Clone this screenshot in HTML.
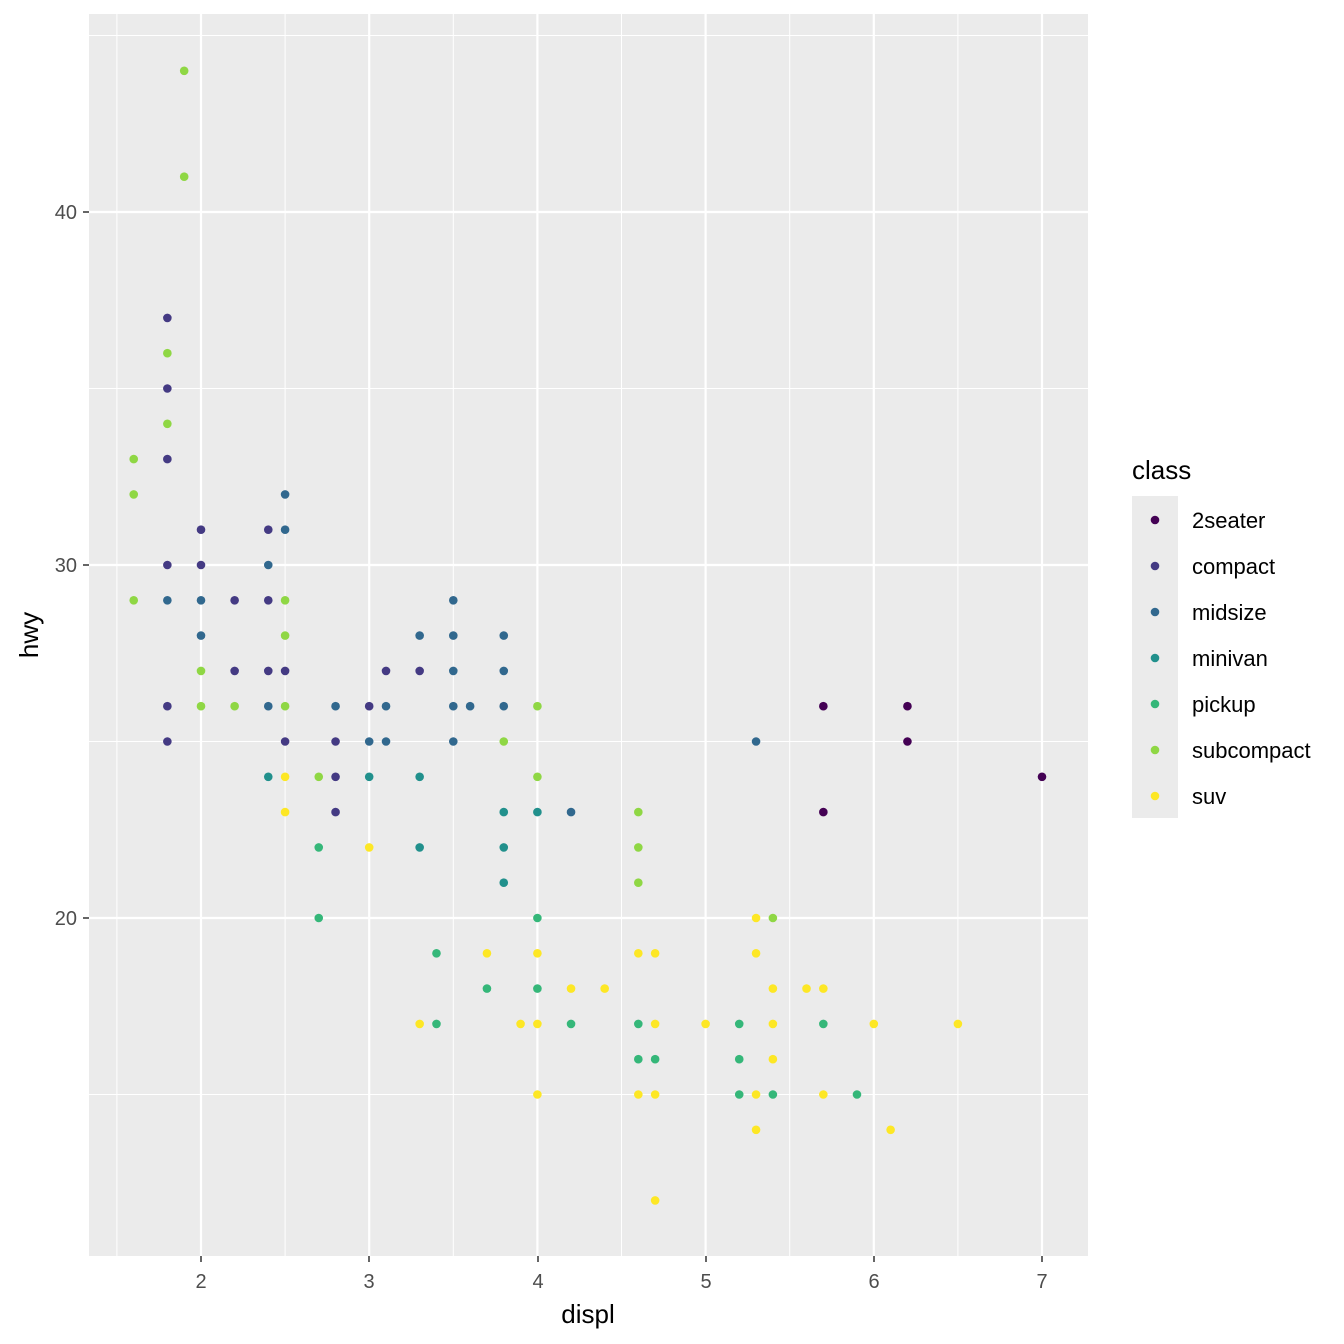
<!DOCTYPE html>
<html><head><meta charset="utf-8"><style>
html,body{margin:0;padding:0;background:#fff;}
svg{display:block;font-family:"Liberation Sans",sans-serif;}
</style></head><body>
<svg id="s" width="1344" height="1344" xmlns="http://www.w3.org/2000/svg">
<rect x="0" y="0" width="1344" height="1344" fill="#fff"/>
<rect x="89" y="14" width="999" height="1242" fill="#EBEBEB"/>
<g id="grid"></g>
<g id="pts"></g>
<g font-size="20" fill="#4D4D4D" text-anchor="end">
<text x="77" y="219">40</text>
<text x="77" y="572">30</text>
<text x="77" y="925">20</text>
</g>
<g font-size="20" fill="#4D4D4D" text-anchor="middle">
<text x="201" y="1288">2</text><text x="369" y="1288">3</text><text x="538" y="1288">4</text>
<text x="706" y="1288">5</text><text x="874" y="1288">6</text><text x="1042" y="1288">7</text>
</g>
<g stroke="#333" stroke-width="1.5">
<line x1="83" x2="89" y1="212" y2="212"/><line x1="83" x2="89" y1="565" y2="565"/><line x1="83" x2="89" y1="918" y2="918"/>
<line x1="201" x2="201" y1="1256" y2="1262"/><line x1="369" x2="369" y1="1256" y2="1262"/><line x1="538" x2="538" y1="1256" y2="1262"/>
<line x1="706" x2="706" y1="1256" y2="1262"/><line x1="874" x2="874" y1="1256" y2="1262"/><line x1="1042" x2="1042" y1="1256" y2="1262"/>
</g>
<text x="588" y="1323" font-size="26" text-anchor="middle" fill="#000">displ</text>
<text transform="translate(38,635) rotate(-90)" font-size="26" text-anchor="middle" fill="#000">hwy</text>
<text x="1132" y="479" font-size="26" fill="#000">class</text>
<rect x="1132" y="496" width="46" height="322" fill="#EBEBEB"/>
<g id="leg" font-size="22" fill="#000"></g>
</svg>
<script>
var NS="http://www.w3.org/2000/svg";
function el(p,t,a){var e=document.createElementNS(NS,t);for(var k in a)e.setAttribute(k,a[k]);p.appendChild(e);return e;}
var X=function(d){return 201+(d-2)*168.2;}, Y=function(h){return 918-(h-20)*35.3;};
var g=document.getElementById("grid");
[1.5,2.5,3.5,4.5,5.5,6.5].forEach(function(d){el(g,"line",{x1:X(d),x2:X(d),y1:14,y2:1256,stroke:"#fff","stroke-width":1});});
[15,25,35,45].forEach(function(h){el(g,"line",{x1:89,x2:1088,y1:Y(h),y2:Y(h),stroke:"#fff","stroke-width":1});});
[2,3,4,5,6,7].forEach(function(d){el(g,"line",{x1:X(d),x2:X(d),y1:14,y2:1256,stroke:"#fff","stroke-width":2.2});});
[20,30,40].forEach(function(h){el(g,"line",{x1:89,x2:1088,y1:Y(h),y2:Y(h),stroke:"#fff","stroke-width":2.2});});
var C={"2seater":"#440154","compact":"#443A83","midsize":"#31688E","minivan":"#21908C","pickup":"#35B779","subcompact":"#8FD744","suv":"#FDE725"};
var D={
subcompact:[[1.9,44],[1.9,41],[1.8,36],[1.8,34],[1.6,33],[1.6,32],[1.6,29],[2.5,29],[2.5,28],[2.0,27],[2.0,26],[2.2,26],[2.5,26],[2.7,24],[3.8,25],[4.0,26],[4.0,24],[4.6,23],[4.6,22],[4.6,21],[5.4,20]],
compact:[[1.8,37],[1.8,35],[1.8,33],[2.0,31],[1.8,30],[2.0,30],[2.2,29],[2.4,31],[2.4,29],[2.2,27],[2.4,27],[2.5,27],[1.8,26],[1.8,25],[2.5,25],[2.8,25],[2.8,24],[2.8,23],[3.0,26],[3.1,27],[3.3,27]],
midsize:[[2.5,32],[2.5,31],[2.4,30],[1.8,29],[2.0,29],[2.0,28],[2.4,26],[2.8,26],[3.0,25],[3.1,26],[3.1,25],[3.3,28],[3.5,29],[3.5,28],[3.5,27],[3.5,26],[3.6,26],[3.5,25],[3.8,28],[3.8,27],[3.8,26],[4.2,23],[5.3,25]],
minivan:[[2.4,24],[3.0,24],[3.3,24],[3.3,22],[3.8,23],[3.8,22],[3.8,21],[4.0,23]],
pickup:[[2.7,22],[2.7,20],[3.4,19],[3.4,17],[3.7,18],[4.0,20],[4.0,18],[4.2,17],[4.6,17],[4.6,16],[4.7,16],[5.2,17],[5.2,16],[5.2,15],[5.4,15],[5.7,17],[5.9,15]],
suv:[[2.5,24],[2.5,23],[3.0,22],[3.3,17],[3.7,19],[3.9,17],[4.0,19],[4.0,17],[4.0,15],[4.2,18],[4.4,18],[4.6,19],[4.6,15],[4.7,19],[4.7,17],[4.7,15],[4.7,12],[5.0,17],[5.3,20],[5.3,19],[5.3,15],[5.3,14],[5.4,18],[5.4,17],[5.4,16],[5.6,18],[5.7,18],[5.7,15],[6.0,17],[6.1,14],[6.5,17]],
"2seater":[[5.7,26],[5.7,23],[6.2,26],[6.2,25],[7.0,24]]};
var p=document.getElementById("pts");
["2seater","compact","midsize","minivan","pickup","subcompact","suv"].forEach(function(k){
 D[k].forEach(function(q){el(p,"circle",{cx:X(q[0]),cy:Y(q[1]),r:4.3,fill:C[k]});});});
var L=document.getElementById("leg");
["2seater","compact","midsize","minivan","pickup","subcompact","suv"].forEach(function(k,i){
 var y=520+i*46; el(L,"circle",{cx:1155,cy:y,r:4.3,fill:C[k]});
 var t=el(L,"text",{x:1192,y:y+8}); t.textContent=k;});
</script>
</body></html>
